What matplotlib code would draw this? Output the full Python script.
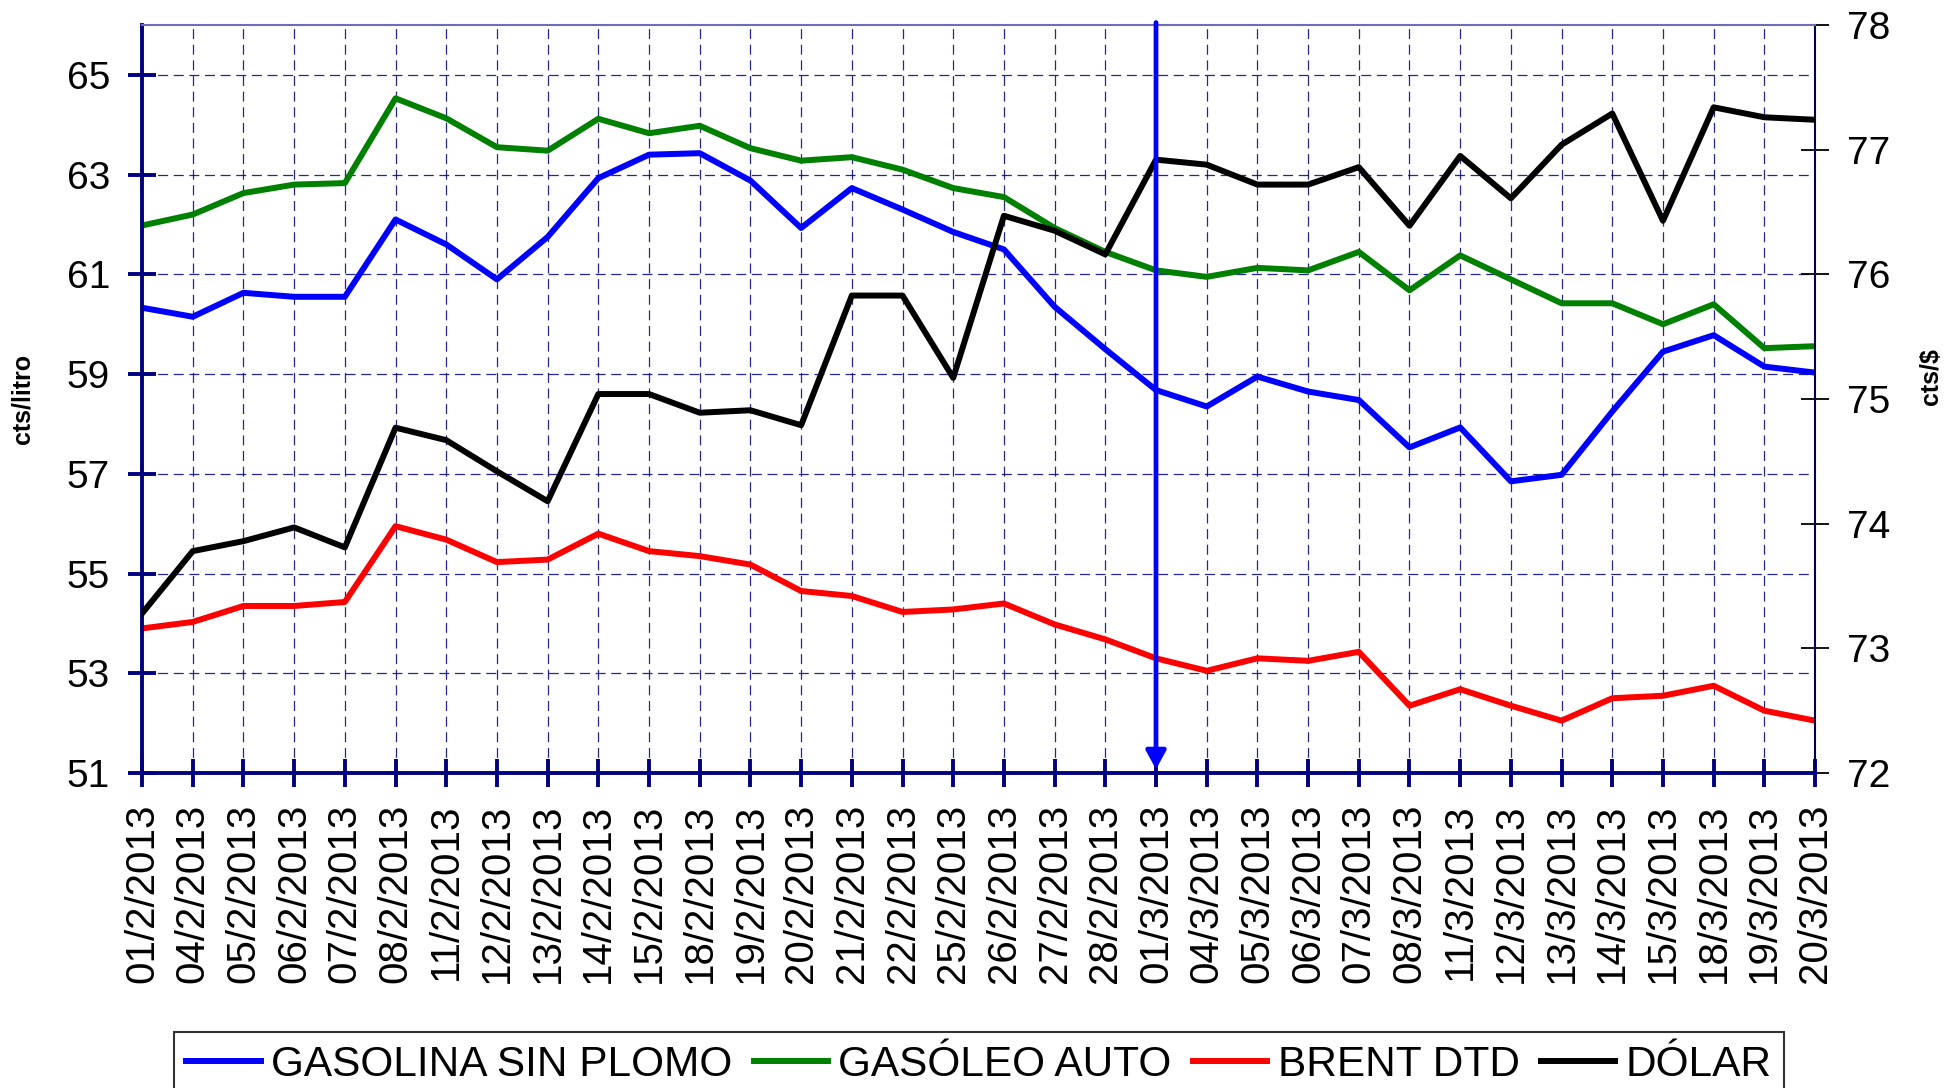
import numpy as np
import matplotlib
matplotlib.use("Agg")
import matplotlib.pyplot as plt

plt.rcParams['font.family'] = ['Liberation Sans', 'DejaVu Sans']

dates = ["01/2/2013", "04/2/2013", "05/2/2013", "06/2/2013", "07/2/2013", "08/2/2013",
         "11/2/2013", "12/2/2013", "13/2/2013", "14/2/2013", "15/2/2013", "18/2/2013",
         "19/2/2013", "20/2/2013", "21/2/2013", "22/2/2013", "25/2/2013", "26/2/2013",
         "27/2/2013", "28/2/2013", "01/3/2013", "04/3/2013", "05/3/2013", "06/3/2013",
         "07/3/2013", "08/3/2013", "11/3/2013", "12/3/2013", "13/3/2013", "14/3/2013",
         "15/3/2013", "18/3/2013", "19/3/2013", "20/3/2013"]

gasolina = [60.33, 60.15, 60.63, 60.55, 60.55, 62.10, 61.60, 60.90, 61.75, 62.93,
            63.40, 63.43, 62.88, 61.93, 62.73, 62.30, 61.85, 61.50, 60.35, 59.50,
            58.68, 58.35, 58.95, 58.65, 58.48, 57.53, 57.93, 56.85, 56.98, 58.25,
            59.45, 59.78, 59.15, 59.03]

gasoleo = [61.98, 62.20, 62.63, 62.80, 62.83, 64.53, 64.13, 63.55, 63.48, 64.12,
           63.83, 63.98, 63.53, 63.28, 63.35, 63.10, 62.73, 62.55, 61.93, 61.45,
           61.08, 60.95, 61.13, 61.08, 61.45, 60.68, 61.38, 60.90, 60.42, 60.42,
           60.00, 60.40, 59.52, 59.56]

brent = [53.90, 54.03, 54.35, 54.35, 54.43, 55.95, 55.68, 55.23, 55.28, 55.80,
         55.45, 55.35, 55.18, 54.65, 54.55, 54.23, 54.28, 54.40, 53.98, 53.68,
         53.30, 53.05, 53.30, 53.25, 53.43, 52.35, 52.68, 52.35, 52.05, 52.50,
         52.55, 52.75, 52.25, 52.05]

dolar = [73.28, 73.78, 73.86, 73.97, 73.81, 74.77, 74.67, 74.42, 74.18, 75.04,
         75.04, 74.89, 74.91, 74.79, 75.83, 75.83, 75.17, 76.47, 76.35, 76.16,
         76.92, 76.88, 76.72, 76.72, 76.86, 76.39, 76.95, 76.61, 77.04, 77.29,
         76.43, 77.34, 77.26, 77.24]

labels = ["GASOLINA SIN PLOMO", "GASÓLEO AUTO", "BRENT DTD", "DÓLAR"]
left_ticks = [51, 53, 55, 57, 59, 61, 63, 65]
right_ticks = [72, 73, 74, 75, 76, 77, 78]
marker_date = "01/3/2013"

NAVY = '#000080'
LW = 4.3

fig = plt.figure(figsize=(19.54, 10.88), dpi=100)
ax = fig.add_axes([0.0727, 0.2895, 0.8562, 0.6875])
x = np.arange(len(dates))

l1, = ax.plot(x, gasolina, color='#0000ff', lw=LW, zorder=3)
l2, = ax.plot(x, gasoleo, color='#008000', lw=LW, zorder=3)
l3, = ax.plot(x, brent, color='#ff0000', lw=LW, zorder=3)

ax.set_xlim(0, len(dates) - 1)
ax.set_ylim(51, 66)
ax.set_yticks(left_ticks)
ax.set_xticks(x)
ax.set_xticklabels(dates, rotation=90)
ax.tick_params(axis='both', direction='inout', length=20, width=2.8, color=NAVY,
               labelsize=28, pad=13)
ax.tick_params(axis='x', labelsize=29, pad=12)
ax.grid(True, color=NAVY, ls=(0, (8, 4.5)), lw=0.9, alpha=0.85)
for s in ax.spines.values():
    s.set_visible(False)

ax2 = ax.twinx()
l4, = ax2.plot(x, dolar, color='black', lw=LW, zorder=3)
ax2.set_ylim(72, 78)
ax2.set_yticks(right_ticks)
ax2.tick_params(axis='y', direction='inout', length=20, width=1.3, color='black',
                labelsize=28, pad=13)
ax2.spines['left'].set_color(NAVY)
ax2.spines['left'].set_linewidth(2.8)
ax2.spines['bottom'].set_color(NAVY)
ax2.spines['bottom'].set_linewidth(2.8)
ax2.spines['top'].set_color('#6e6eb8')
ax2.spines['top'].set_linewidth(1.5)
ax2.spines['right'].set_color('#000050')
ax2.spines['right'].set_linewidth(1.5)

mi = dates.index(marker_date)
ax2.annotate('', xy=(mi, 72.03), xytext=(mi, 78.02),
             arrowprops=dict(arrowstyle='-|>,head_length=0.55,head_width=0.3',
                             color='#0000ff', lw=3.4, mutation_scale=20,
                             shrinkA=0, shrinkB=0), zorder=5)

ax.set_ylabel('cts/litro', fontsize=18, fontweight='bold')
ax.yaxis.set_label_coords(-0.064, 0.5)
ax2.set_ylabel('cts/$', fontsize=18, fontweight='bold')
ax2.yaxis.set_label_coords(1.062, 0.53)

leg = fig.legend([l1, l2, l3, l4], labels, loc='upper center',
                 bbox_to_anchor=(0.501, 1 - 1032 / 1088), ncol=4, fontsize=30.5,
                 frameon=True, fancybox=False, edgecolor='black',
                 handlelength=1.75, handletextpad=0.25, columnspacing=0.5,
                 borderpad=0.3, borderaxespad=0)
leg.get_frame().set_linewidth(1.5)

fig.savefig('out.png', dpi=100)
